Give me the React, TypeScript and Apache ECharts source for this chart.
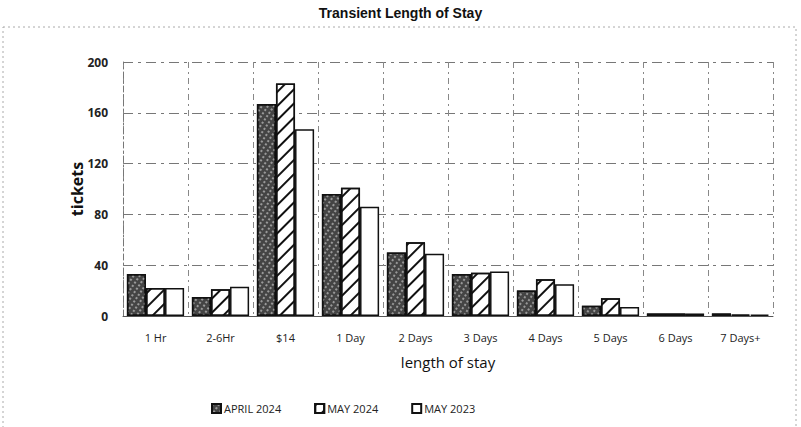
import React, { useEffect, useRef } from "react";
import * as echarts from "echarts";

const categories = ["1 Hr", "2-6Hr", "$14", "1 Day", "2 Days", "3 Days", "4 Days", "5 Days", "6 Days", "7 Days+"];
const april2024 = [33, 15, 167, 96, 50, 33, 20, 8, 2, 2];
const may2024 = [22, 21, 183, 101, 58, 34, 29, 14, 2, 1];
const may2023 = [22, 23, 147, 86, 49, 35, 25, 7, 2, 1];
const seriesNames = ["APRIL 2024", "MAY 2024", "MAY 2023"];

export default function App() {
  const ref = useRef<HTMLDivElement>(null);
  useEffect(() => {
    if (!ref.current) return;
    const chart = echarts.init(ref.current, undefined, { renderer: "svg" });
    const font = "'Open Sans', 'Liberation Sans', sans-serif";
    chart.setOption({
      animation: false,
      backgroundColor: "#fff",
      title: {
        text: "Transient Length of Stay",
        left: "center",
        top: 1,
        textStyle: { fontFamily: "'Liberation Sans', Arial, sans-serif", fontWeight: "bold", fontSize: 14, color: "#111" },
      },
      graphic: [
        {
          type: "rect",
          shape: { x: 3, y: 27, width: 793, height: 420 },
          style: { fill: "none", stroke: "#aaa", lineWidth: 1, lineDash: [2, 3] },
          silent: true,
        },
      ],
      grid: { left: 123, right: 28, top: 62, bottom: 111, containLabel: false },
      legend: {
        bottom: 8,
        left: 206,
        itemWidth: 9,
        itemHeight: 9,
        itemGap: 33,
        icon: "rect",
        textStyle: { fontFamily: font, fontSize: 11, color: "#222", padding: [0, 0, 0, -2] },
        data: seriesNames,
      },
      xAxis: {
        type: "category",
        data: categories,
        name: "length of stay",
        nameLocation: "middle",
        nameGap: 38,
        nameTextStyle: { fontFamily: font, fontSize: 15, color: "#111" },
        axisLine: { show: true, lineStyle: { color: "#555", width: 1 } },
        axisTick: { show: false },
        axisLabel: { fontFamily: font, fontSize: 11, color: "#222", margin: 16 },
        splitLine: { show: true, lineStyle: { color: "#888", type: [6, 4, 2, 4], width: 1 } },
      },
      yAxis: {
        type: "value",
        min: 0,
        max: 200,
        interval: 40,
        name: "tickets",
        nameLocation: "middle",
        nameGap: 38,
        nameMoveOverlap: false,
        nameTextStyle: { fontFamily: font, fontSize: 16, fontWeight: "bold", color: "#111" },
        axisLine: { show: true, lineStyle: { color: "#777", type: [6, 3, 2, 3] } },
        axisTick: { show: false },
        axisLabel: { fontFamily: font, fontSize: 12, fontWeight: "bold", color: "#222", margin: 15 },
        splitLine: { show: true, lineStyle: { color: "#777", type: [10, 5, 3, 5], width: 1 } },
      },
      series: [
        {
          name: seriesNames[0],
          type: "bar",
          data: april2024,
          barGap: "0%",
          barCategoryGap: "12%",
          itemStyle: {
            color: "#444",
            borderColor: "#111",
            borderWidth: 1.5,
            decal: { symbol: "rect", symbolSize: 1, color: "#999", dashArrayX: [2, 3], dashArrayY: [2, 2], rotation: 0.6 },
          },
        },
        {
          name: seriesNames[1],
          type: "bar",
          data: may2024,
          barGap: "0%",
          barCategoryGap: "12%",
          itemStyle: {
            color: "#fff",
            borderColor: "#111",
            borderWidth: 1.5,
            decal: { symbol: "rect", symbolSize: 1, color: "#111", dashArrayX: [1, 0], dashArrayY: [2, 8], rotation: -Math.PI / 4 },
          },
        },
        {
          name: seriesNames[2],
          type: "bar",
          data: may2023,
          barGap: "0%",
          barCategoryGap: "12%",
          itemStyle: { color: "#fff", borderColor: "#111", borderWidth: 1.5 },
        },
      ],
    });
    return () => chart.dispose();
  }, []);
  return <div ref={ref} style={{ width: 801, height: 427, position: "absolute", left: 0, top: 0 }} />;
}
